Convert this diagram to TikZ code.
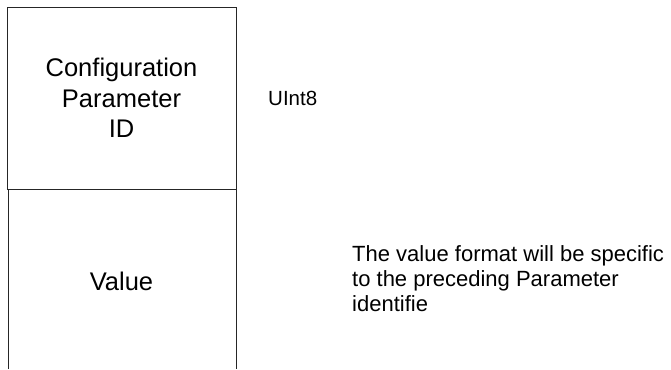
\documentclass[tikz,border=0pt]{standalone}
\usepackage{fontspec}
\setmainfont{Liberation Sans}
\usetikzlibrary{positioning}

\begin{document}
\begin{tikzpicture}[x=1pt, y=-1pt, field/.style={rectangle, draw=black!85, line width=0.8pt, minimum width=229pt, minimum height=182.5pt, align=center, font=\fontsize{25.5}{30.5}\selectfont, inner sep=0pt}, txt/.style={inner sep=0pt}]
\useasboundingbox (0,0) rectangle (671,369);
\node[field] (cfg) at (121.5,98.25) {Configuration\\Parameter\\ID};
\coordinate (vbl) at (8,369);
\coordinate (vtl) at (8,189.5);
\coordinate (vtr) at (236.5,189.5);
\coordinate (vbr) at (236.5,369);
\draw[draw=black!85, line width=0.8pt] (vbl) -- (vtl) -- (vtr) -- (vbr);
\node[txt, anchor=base, font=\fontsize{25.5}{30.5}\selectfont] (val) at (121.5,290) {Value};
\node[txt, anchor=base west, font=\fontsize{20.5}{24}\selectfont] (type) at (268,105) {UInt8};
\node[txt, anchor=north west, align=left, font=\fontsize{22}{25}\selectfont] (desc) at (352,245.7) {The value format will be specific\\to the preceding Parameter\\identifie};
\end{tikzpicture}
\end{document}
